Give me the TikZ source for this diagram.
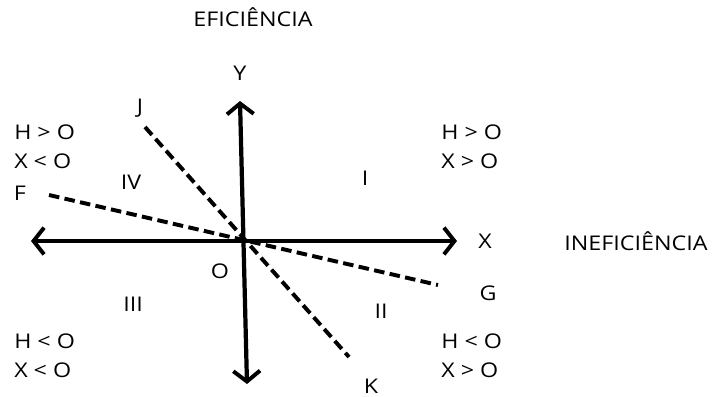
\documentclass[tikz,border=0pt]{standalone}
\usepackage{fontspec}
\setmainfont{Open Sans}[FakeStretch=1.15]
\usepackage{tikz}
\usetikzlibrary{arrows.meta, positioning, calc}

\begin{document}
\begin{tikzpicture}[
        x=0.025cm, y=-0.025cm,
        >={Straight Barb[length=7.5pt, width=19pt, line width=2.8pt]},
        axis_style/.style={<->, line width=3pt, draw=black},
        dash_style/.style={line width=2.8pt, dash pattern=on 7.5pt off 3.8pt},
        lbl_style/.style={font=\fontsize{14.4}{16}\selectfont, inner sep=0pt}
    ]
    \useasboundingbox (0,0) rectangle (718,396);

    % =========================================================================
    % 1. AXIS AND LINE END POINTS
    % =========================================================================
    \coordinate (Ytop) at (240, 101);
    \coordinate (Ybot) at (247, 384);
    \coordinate (Xleft) at (31, 241);
    \coordinate (Xright) at (457, 241);

    \coordinate (Fend) at (49, 195);
    \coordinate (Gend) at (438, 285);
    \coordinate (Jend) at (145, 127);
    \coordinate (Kend) at (349, 357);

    % =========================================================================
    % 2. LABELS
    % =========================================================================
    \node[lbl_style] (Eff) at (253, 17) {EFICIÊNCIA};
    \node[lbl_style] (Ineff) at (636, 241) {INEFICIÊNCIA};
    \node[lbl_style] (Ylbl) at (240, 73) {Y};
    \node[lbl_style] (Xlbl) at (485, 241) {X};
    \node[lbl_style] (Olbl) at (220, 271) {O};

    \node[lbl_style] (Flbl) at (20, 193) {F};
    \node[lbl_style] (Glbl) at (488, 293) {G};
    \node[lbl_style] (Jlbl) at (140, 108) {J};
    \node[lbl_style] (Klbl) at (371, 386) {K};

    % Quadrant numbers
    \node[lbl_style] (QI) at (365, 178) {I};
    \node[lbl_style] (QII) at (381, 311) {II};
    \node[lbl_style] (QIII) at (133, 304) {III};
    \node[lbl_style] (QIV) at (131, 182) {IV};

    % Quadrant signs
    \node[lbl_style, anchor=west] (HI) at (441, 132) {H > O};
    \node[lbl_style, anchor=west] (XI) at (441, 161) {X > O};
    \node[lbl_style, anchor=west] (HII) at (441, 341) {H < O};
    \node[lbl_style, anchor=west] (XII) at (441, 370) {X > O};
    \node[lbl_style, anchor=west] (HIII) at (14, 341) {H < O};
    \node[lbl_style, anchor=west] (XIII) at (14, 370) {X < O};
    \node[lbl_style, anchor=west] (HIV) at (14, 132) {H > O};
    \node[lbl_style, anchor=west] (XIV) at (14, 161) {X < O};

    % =========================================================================
    % 3. AXES
    % =========================================================================
    \draw[axis_style] (Ybot) -- (Ytop);
    \draw[axis_style] (Xleft) -- (Xright);

    % =========================================================================
    % 4. DASHED LINES
    % =========================================================================
    \draw[dash_style] (Fend) -- (Gend);
    \draw[dash_style] (Jend) -- (Kend);

\end{tikzpicture}
\end{document}
